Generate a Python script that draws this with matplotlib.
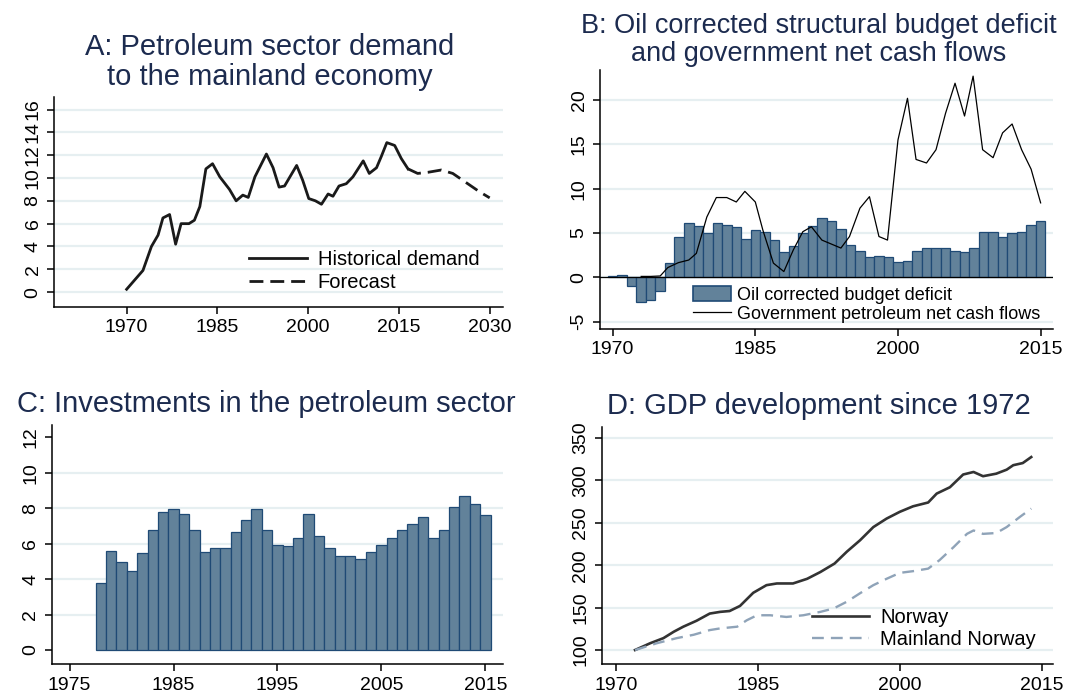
import matplotlib
matplotlib.use("Agg")
import matplotlib.pyplot as plt
from matplotlib.patches import Patch
from matplotlib.lines import Line2D

plt.rcParams['font.family'] = ['Liberation Sans', 'DejaVu Sans']
plt.rcParams['axes.unicode_minus'] = False

# A: petroleum sector demand to the mainland economy
hist_years = [1970, 1972.7, 1974.1, 1975.2, 1976.0, 1977.1, 1978.1, 1979.0, 1980.3, 1981.2,
              1982.1, 1983.1, 1984.2, 1985.4, 1987.0, 1988.1, 1989.2, 1990.1, 1991.2, 1993.1,
              1994.2, 1995.2, 1996.1, 1998.1, 1999.1, 2000.1, 2001.2, 2002.2, 2003.3, 2004.1,
              2005.1, 2006.3, 2007.4, 2009.1, 2010.1, 2011.3, 2012.1, 2013.0, 2014.3, 2015.4,
              2016.5]
hist_demand = [0.25, 1.9, 4.0, 5.0, 6.5, 6.8, 4.2, 6.0, 6.0, 6.3,
               7.5, 10.8, 11.25, 10.1, 9.0, 8.0, 8.5, 8.3, 10.1, 12.1,
               10.9, 9.2, 9.3, 11.1, 9.8, 8.2, 8.0, 7.7, 8.6, 8.4,
               9.3, 9.5, 10.1, 11.5, 10.4, 10.9, 11.9, 13.1, 12.85, 11.7,
               10.8]
fc_years = [2016.5, 2018.1, 2019.8, 2022.0, 2023.9, 2026.1, 2028.3, 2030.0]
fc_demand = [10.8, 10.4, 10.5, 10.7, 10.4, 9.6, 8.8, 8.26]

# B: oil corrected budget deficit and government net cash flows
deficit_years = list(range(1970, 2016))
deficit = [0.15, 0.3, -0.95, -2.75, -2.6, -1.5, 1.65, 4.6, 6.1, 5.8,
           5.05, 6.1, 5.9, 5.65, 4.3, 5.35, 5.15, 4.2, 2.8, 3.5,
           4.95, 5.8, 6.7, 6.35, 5.45, 3.7, 3.0, 2.25, 2.45, 2.25,
           1.7, 1.85, 3.0, 3.35, 3.35, 3.35, 3.0, 2.85, 3.35, 5.1,
           5.1, 4.5, 5.0, 5.15, 5.9, 6.35]
cash_years = [1973, 1974, 1975, 1975.8, 1976.9, 1978, 1978.8, 1979.9, 1980.9, 1982,
              1983, 1983.9, 1985, 1985.8, 1986.9, 1988, 1989, 1990, 1990.9, 1992,
              1993, 1994, 1994.9, 1996, 1997, 1998, 1998.9, 2000, 2001, 2001.9,
              2003, 2004, 2005, 2006, 2007, 2007.9, 2008.9, 2010, 2011, 2012,
              2013, 2014, 2015]
cash_flows = [0.1, 0.1, 0.15, 1.1, 1.65, 1.95, 2.7, 6.8, 9.0, 9.0,
              8.5, 9.7, 8.5, 5.3, 1.6, 0.65, 3.1, 5.15, 5.7, 4.2,
              3.75, 3.3, 4.6, 7.8, 9.1, 4.6, 4.2, 15.5, 20.2, 13.3,
              12.9, 14.4, 18.5, 21.9, 18.2, 22.7, 14.4, 13.5, 16.3, 17.3,
              14.4, 12.2, 8.4]

# C: investments in the petroleum sector
inv_years = list(range(1978, 2016))
investments = [3.8, 5.6, 4.98, 4.48, 5.45, 6.8, 7.8, 7.95, 7.65, 6.8,
               5.55, 5.75, 5.75, 6.65, 7.35, 7.95, 6.75, 5.9, 5.85, 6.3,
               7.65, 6.45, 5.75, 5.3, 5.3, 5.15, 5.55, 5.9, 6.3, 6.75,
               7.1, 7.5, 6.3, 6.75, 8.05, 8.7, 8.25, 7.6]

# D: GDP development since 1972
gdp_years = [1972.0, 1973.6, 1975.0, 1976.1, 1977.1, 1978.5, 1979.9, 1981.0, 1982.0, 1983.1,
             1984.5, 1985.9, 1987.0, 1988.7, 1990.2, 1991.6, 1993.1, 1994.4, 1995.8, 1997.2,
             1998.6, 2000.0, 2001.4, 2003.0, 2003.9, 2005.3, 2006.7, 2007.8, 2008.8, 2010.2,
             2011.3, 2012.0, 2013.0, 2013.9]
gdp_norway = [100, 108, 114, 121.6, 127.5, 134.5, 143, 145, 146, 152,
              167.5, 176.5, 178.5, 178.5, 184, 192, 202, 216, 229.5, 245,
              255, 263, 269.5, 274, 284.5, 292, 307, 310, 305, 308,
              312.7, 318, 320.5, 327.6]
main_years = [1972.0, 1974.3, 1976.4, 1978.2, 1979.9, 1981.0, 1982.8, 1983.8, 1984.9, 1986.3,
              1988.0, 1989.8, 1991.6, 1993.0, 1994.4, 1995.8, 1997.2, 1998.6, 2000.0, 2001.4,
              2003.0, 2004.2, 2005.7, 2007.1, 2007.8, 2008.8, 2010.2, 2011.3, 2012.7, 2013.9]
gdp_mainland = [100, 108, 114, 118, 123.5, 125.5, 127.5, 135, 141, 141,
                139, 141, 145, 149, 157, 167, 176.5, 184, 191, 193,
                196, 206, 221.5, 237, 241, 237, 238, 245, 257, 266.8]

TITLE_C = '#1c2b4f'
BAR_C = '#62829a'
EDGE_C = '#1f4a75'
GRID_C = '#e6eff1'
TICK_FS = 14
TITLE_FS = 21


def style_axes(ax, yticks, xticks, grid_ticks=None):
    for s in ['top', 'right']:
        ax.spines[s].set_visible(False)
    for s in ['left', 'bottom']:
        ax.spines[s].set_linewidth(1.1)
    ax.set_yticks(yticks)
    ax.set_xticks(xticks)
    ax.tick_params(axis='both', length=5, width=1.1, labelsize=TICK_FS, pad=4)
    for lab in ax.get_yticklabels():
        lab.set_rotation(90)
        lab.set_va('center')
    for g in (yticks if grid_ticks is None else grid_ticks):
        ax.axhline(g, color=GRID_C, lw=1.6, zorder=0)


fig = plt.figure(figsize=(10.78, 6.98), dpi=100)

# Panel A
ax1 = fig.add_axes([0.0501, 0.5602, 0.4165, 0.3009])
ax1.plot(hist_years, hist_demand, color='#1a1a1a', lw=2.0, label='Historical demand')
ax1.plot(fc_years, fc_demand, color='#1a1a1a', lw=2.0, ls=(0, (5, 2.5)), label='Forecast')
ax1.set_xlim(1958, 2032.2)
ax1.set_ylim(-1.3, 17.1)
style_axes(ax1, list(range(0, 17, 2)), [1970, 1985, 2000, 2015, 2030])
ax1.legend(loc='upper left', bbox_to_anchor=(0.435, 0.27), frameon=False, fontsize=14.5,
           handlelength=2.85, handletextpad=0.55, labelspacing=0.2, borderpad=0, borderaxespad=0)
fig.text(270 / 1078, 1 - 62 / 698, 'A: Petroleum sector demand\nto the mainland economy',
         ha='center', va='center', fontsize=TITLE_FS, color=TITLE_C, linespacing=1.05)

# Panel B
ax2 = fig.add_axes([0.5566, 0.5287, 0.4202, 0.3711])
ax2.bar(deficit_years, deficit, width=1.0, color=BAR_C, edgecolor=EDGE_C, linewidth=0.9, zorder=2)
ax2.axhline(0, color='black', lw=0.9, zorder=3)
ax2.plot(cash_years, cash_flows, color='black', lw=0.9, zorder=4)
ax2.set_xlim(1968.67, 2016.3)
ax2.set_ylim(-5.83, 23.4)
style_axes(ax2, [-5, 0, 5, 10, 15, 20], [1970, 1985, 2000, 2015])
handles_b = [Patch(facecolor=BAR_C, edgecolor=EDGE_C, linewidth=1.2),
             Line2D([], [], color='black', lw=0.9)]
ax2.legend(handles_b, ['Oil corrected budget deficit', 'Government petroleum net cash flows'],
           loc='upper left', bbox_to_anchor=(0.205, 0.165), frameon=False, fontsize=13,
           handlelength=2.1, handleheight=0.85, handletextpad=0.35, labelspacing=0.1,
           borderpad=0, borderaxespad=0)
fig.text(819 / 1078, 1 - 40 / 698, 'B: Oil corrected structural budget deficit\nand government net cash flows',
         ha='center', va='center', fontsize=19.5, color=TITLE_C, linespacing=1.12)

# Panel C
ax3 = fig.add_axes([0.0482, 0.0487, 0.4184, 0.3424])
ax3.bar(inv_years, investments, width=1.0, color=BAR_C, edgecolor=EDGE_C, linewidth=0.9, zorder=2)
ax3.set_xlim(1973.3, 2016.7)
ax3.set_ylim(-0.79, 12.7)
style_axes(ax3, list(range(0, 13, 2)), [1975, 1985, 1995, 2005, 2015], grid_ticks=[2, 4, 6, 8, 10])
fig.text(266 / 1078, 1 - 404 / 698, 'C: Investments in the petroleum sector',
         ha='center', va='center', fontsize=TITLE_FS, color=TITLE_C)

# Panel D
ax4 = fig.add_axes([0.5584, 0.0487, 0.4184, 0.3395])
ax4.plot(gdp_years, gdp_norway, color='#333333', lw=1.9, label='Norway')
ax4.plot(main_years, gdp_mainland, color='#8fa3b8', lw=1.7, ls=(0, (5, 3)), label='Mainland Norway')
ax4.set_xlim(1968.5, 2016.2)
ax4.set_ylim(83.5, 363)
style_axes(ax4, [100, 150, 200, 250, 300, 350], [1970, 1985, 2000, 2015])
ax4.legend(loc='upper left', bbox_to_anchor=(0.465, 0.235), frameon=False, fontsize=14.5,
           handlelength=2.85, handletextpad=0.55, labelspacing=0.15, borderpad=0, borderaxespad=0)
fig.text(819 / 1078, 1 - 406 / 698, 'D: GDP development since 1972',
         ha='center', va='center', fontsize=TITLE_FS, color=TITLE_C)

fig.savefig('out.png', dpi=100)
